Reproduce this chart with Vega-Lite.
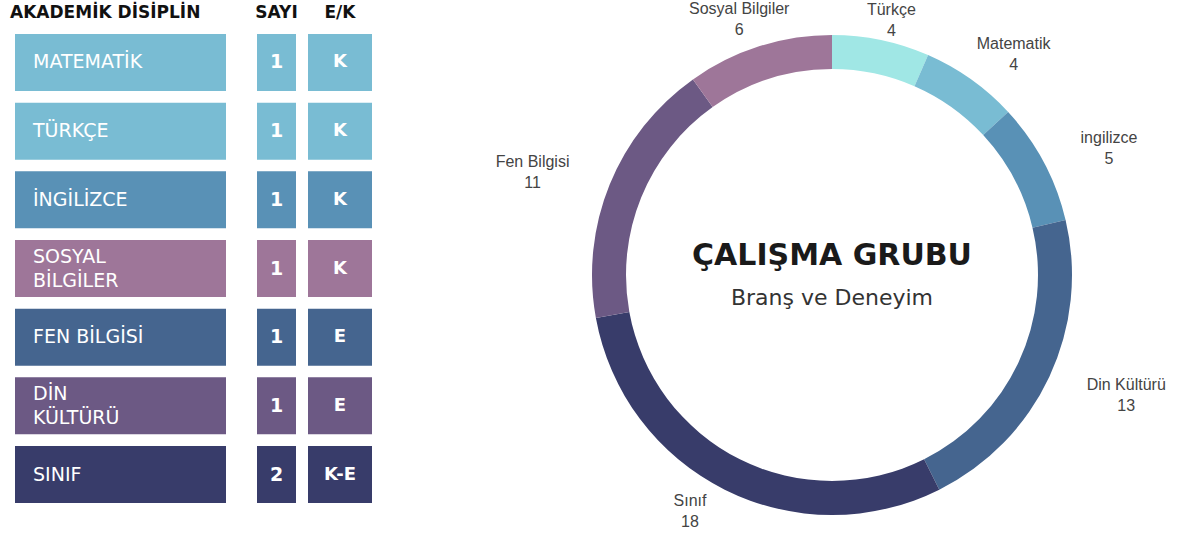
{
  "$schema": "https://vega.github.io/schema/vega-lite/v6.json",
  "background": "white",
  "padding": {"left": 10, "top": 0, "right": 0, "bottom": 0},
  "config": {
    "view": {"stroke": null},
    "title": {"font": "DejaVu Sans", "fontSize": 17, "fontWeight": "bold", "color": "#111111", "offset": 12},
    "text": {"font": "Liberation Sans", "fontSize": 16, "color": "#444444", "lineHeight": 21}
  },
  "datasets": {
    "tablo": [
      {"disiplin": "MATEMATİK", "sayi": "1", "ek": "K", "sira": 1, "satir": 1},
      {"disiplin": "TÜRKÇE", "sayi": "1", "ek": "K", "sira": 2, "satir": 1},
      {"disiplin": "İNGİLİZCE", "sayi": "1", "ek": "K", "sira": 3, "satir": 1},
      {"disiplin": "SOSYAL\nBİLGİLER", "sayi": "1", "ek": "K", "sira": 4, "satir": 2},
      {"disiplin": "FEN BİLGİSİ", "sayi": "1", "ek": "E", "sira": 5, "satir": 1},
      {"disiplin": "DİN\nKÜLTÜRÜ", "sayi": "1", "ek": "E", "sira": 6, "satir": 2},
      {"disiplin": "SINIF", "sayi": "2", "ek": "K-E", "sira": 7, "satir": 1}
    ],
    "dagilim": [
      {"ders": "Türkçe", "n": 4, "sira": 1},
      {"ders": "Matematik", "n": 4, "sira": 2},
      {"ders": "ingilizce", "n": 5, "sira": 3},
      {"ders": "Din Kültürü", "n": 13, "sira": 4},
      {"ders": "Sınıf", "n": 18, "sira": 5},
      {"ders": "Fen Bilgisi", "n": 11, "sira": 6},
      {"ders": "Sosyal Bilgiler", "n": 6, "sira": 7}
    ]
  },
  "spacing": 123,
  "resolve": {"scale": {"color": "independent"}},
  "hconcat": [
    {
      "spacing": 29,
      "hconcat": [
        {
          "width": 211,
          "height": 469,
          "title": {"text": "AKADEMİK DİSİPLİN", "anchor": "start", "dx": -5},
          "data": {"name": "tablo"},
          "encoding": {
            "y": {"field": "disiplin", "type": "nominal", "sort": {"field": "sira", "op": "min"}, "axis": null, "scale": {"paddingInner": 0.17, "paddingOuter": 0}}
          },
          "layer": [
            {
              "mark": {"type": "rect"},
              "encoding": {
                "x": {"value": 0},
                "x2": {"value": "width"},
                "color": {"field": "disiplin", "type": "nominal", "legend": null,
                  "scale": {"domain": ["MATEMATİK", "TÜRKÇE", "İNGİLİZCE", "SOSYAL\nBİLGİLER", "FEN BİLGİSİ", "DİN\nKÜLTÜRÜ", "SINIF"],
                            "range": ["#79bcd3", "#79bcd3", "#5991b6", "#9e7699", "#45658f", "#6c5984", "#383c6a"]}}
              }
            },
            {
              "transform": [{"filter": "datum.satir == 1"}],
              "mark": {"type": "text", "align": "left", "dx": 18, "font": "DejaVu Sans", "fontSize": 19, "color": "white"},
              "encoding": {"x": {"value": 0}, "text": {"field": "disiplin"}}
            },
            {
              "transform": [{"filter": "datum.satir == 2"}],
              "mark": {"type": "text", "align": "left", "dx": 18, "dy": -12, "font": "DejaVu Sans", "fontSize": 19, "color": "white", "lineBreak": "\n", "lineHeight": 24},
              "encoding": {"x": {"value": 0}, "text": {"field": "disiplin"}}
            }
          ]
        },
        {
          "spacing": 10,
          "hconcat": [
            {
              "width": 39,
              "height": 469,
              "title": {"text": "SAYI", "anchor": "middle"},
              "data": {"name": "tablo"},
              "encoding": {
                "y": {"field": "disiplin", "type": "nominal", "sort": {"field": "sira", "op": "min"}, "axis": null, "scale": {"paddingInner": 0.17, "paddingOuter": 0}}
              },
              "layer": [
                {
                  "mark": {"type": "rect"},
                  "encoding": {
                    "x": {"value": 0},
                    "x2": {"value": "width"},
                    "color": {"field": "disiplin", "type": "nominal", "legend": null}
                  }
                },
                {
                  "mark": {"type": "text", "font": "DejaVu Sans", "fontSize": 19, "fontWeight": "bold", "color": "white"},
                  "encoding": {"text": {"field": "sayi"}}
                }
              ]
            },
            {
              "width": 64,
              "height": 469,
              "title": {"text": "E/K", "anchor": "middle"},
              "data": {"name": "tablo"},
              "encoding": {
                "y": {"field": "disiplin", "type": "nominal", "sort": {"field": "sira", "op": "min"}, "axis": null, "scale": {"paddingInner": 0.17, "paddingOuter": 0}}
              },
              "layer": [
                {
                  "mark": {"type": "rect"},
                  "encoding": {
                    "x": {"value": 0},
                    "x2": {"value": "width"},
                    "color": {"field": "disiplin", "type": "nominal", "legend": null}
                  }
                },
                {
                  "mark": {"type": "text", "font": "DejaVu Sans", "fontSize": 18, "fontWeight": "bold", "color": "white"},
                  "encoding": {"text": {"field": "ek"}}
                }
              ]
            }
          ]
        }
      ]
    },
    {
      "width": 560,
      "height": 482,
      "layer": [
        {
          "data": {"name": "dagilim"},
          "mark": {"type": "arc", "outerRadius": 240, "innerRadius": 206},
          "encoding": {
            "theta": {"field": "n", "type": "quantitative", "stack": true},
            "order": {"field": "sira", "type": "quantitative"},
            "color": {"field": "ders", "type": "nominal", "legend": null,
              "scale": {"domain": ["Türkçe", "Matematik", "ingilizce", "Din Kültürü", "Sınıf", "Fen Bilgisi", "Sosyal Bilgiler"],
                        "range": ["#a0e7e5", "#79bcd3", "#5991b6", "#45658f", "#383c6a", "#6c5984", "#9e7699"]}}
          }
        },
        {
          "data": {"name": "dagilim"},
          "transform": [
            {"stack": "n", "groupby": [], "sort": [{"field": "sira", "order": "ascending"}], "as": ["t0", "t1"]},
            {"calculate": "(datum.t0 + datum.t1) / 2", "as": "orta"},
            {"calculate": "[datum.ders, '' + datum.n]", "as": "lbl"},
            {"filter": {"field": "ders", "equal": "Türkçe"}}
          ],
          "mark": {"type": "text", "radius": 261, "dx": 6, "dy": -10},
          "encoding": {"theta": {"field": "orta", "type": "quantitative"}, "text": {"field": "lbl"}}
        },
        {
          "data": {"name": "dagilim"},
          "transform": [
            {"stack": "n", "groupby": [], "sort": [{"field": "sira", "order": "ascending"}], "as": ["t0", "t1"]},
            {"calculate": "(datum.t0 + datum.t1) / 2", "as": "orta"},
            {"calculate": "[datum.ders, '' + datum.n]", "as": "lbl"},
            {"filter": {"field": "ders", "equal": "Sosyal Bilgiler"}}
          ],
          "mark": {"type": "text", "radius": 269, "dx": -11, "dy": -10},
          "encoding": {"theta": {"field": "orta", "type": "quantitative"}, "text": {"field": "lbl"}}
        },
        {
          "data": {"name": "dagilim"},
          "transform": [
            {"stack": "n", "groupby": [], "sort": [{"field": "sira", "order": "ascending"}], "as": ["t0", "t1"]},
            {"calculate": "(datum.t0 + datum.t1) / 2", "as": "orta"},
            {"calculate": "[datum.ders, '' + datum.n]", "as": "lbl"},
            {"filter": {"field": "ders", "equal": "Matematik"}}
          ],
          "mark": {"type": "text", "radius": 272, "dx": 24, "dy": -9},
          "encoding": {"theta": {"field": "orta", "type": "quantitative"}, "text": {"field": "lbl"}}
        },
        {
          "data": {"name": "dagilim"},
          "transform": [
            {"stack": "n", "groupby": [], "sort": [{"field": "sira", "order": "ascending"}], "as": ["t0", "t1"]},
            {"calculate": "(datum.t0 + datum.t1) / 2", "as": "orta"},
            {"calculate": "[datum.ders, '' + datum.n]", "as": "lbl"},
            {"filter": {"field": "ders", "equal": "ingilizce"}}
          ],
          "mark": {"type": "text", "radius": 290, "dx": 21, "dy": -1},
          "encoding": {"theta": {"field": "orta", "type": "quantitative"}, "text": {"field": "lbl"}}
        },
        {
          "data": {"name": "dagilim"},
          "transform": [
            {"stack": "n", "groupby": [], "sort": [{"field": "sira", "order": "ascending"}], "as": ["t0", "t1"]},
            {"calculate": "(datum.t0 + datum.t1) / 2", "as": "orta"},
            {"calculate": "[datum.ders, '' + datum.n]", "as": "lbl"},
            {"filter": {"field": "ders", "equal": "Din Kültürü"}}
          ],
          "mark": {"type": "text", "radius": 305, "dx": 18, "dy": -19},
          "encoding": {"theta": {"field": "orta", "type": "quantitative"}, "text": {"field": "lbl"}}
        },
        {
          "data": {"name": "dagilim"},
          "transform": [
            {"stack": "n", "groupby": [], "sort": [{"field": "sira", "order": "ascending"}], "as": ["t0", "t1"]},
            {"calculate": "(datum.t0 + datum.t1) / 2", "as": "orta"},
            {"calculate": "[datum.ders, '' + datum.n]", "as": "lbl"},
            {"filter": {"field": "ders", "equal": "Sınıf"}}
          ],
          "mark": {"type": "text", "radius": 264, "dx": -24, "dy": -10},
          "encoding": {"theta": {"field": "orta", "type": "quantitative"}, "text": {"field": "lbl"}}
        },
        {
          "data": {"name": "dagilim"},
          "transform": [
            {"stack": "n", "groupby": [], "sort": [{"field": "sira", "order": "ascending"}], "as": ["t0", "t1"]},
            {"calculate": "(datum.t0 + datum.t1) / 2", "as": "orta"},
            {"calculate": "[datum.ders, '' + datum.n]", "as": "lbl"},
            {"filter": {"field": "ders", "equal": "Fen Bilgisi"}}
          ],
          "mark": {"type": "text", "radius": 320, "dx": -3, "dy": 8},
          "encoding": {"theta": {"field": "orta", "type": "quantitative"}, "text": {"field": "lbl"}}
        },
        {
          "data": {"values": [{"metin": "ÇALIŞMA GRUBU"}]},
          "mark": {"type": "text", "font": "DejaVu Sans", "fontSize": 30, "fontWeight": "bold", "color": "#1a1a1a", "dy": -19},
          "encoding": {"text": {"field": "metin"}}
        },
        {
          "data": {"values": [{"metin": "Branş ve Deneyim"}]},
          "mark": {"type": "text", "font": "DejaVu Sans", "fontSize": 22, "color": "#333333", "dy": 23},
          "encoding": {"text": {"field": "metin"}}
        }
      ]
    }
  ]
}
